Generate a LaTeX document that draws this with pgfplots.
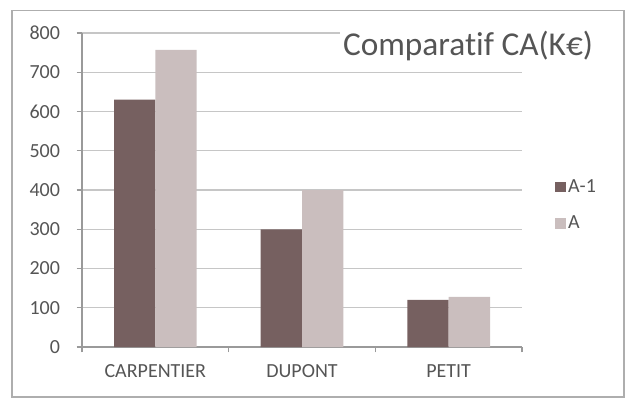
\documentclass[border=0pt]{standalone}
\usepackage{pgfplots}
\pgfplotsset{compat=1.18}
\usepackage{fontspec}
\setmainfont{Carlito}
\definecolor{dark}{HTML}{766060}
\definecolor{light}{HTML}{CABEBE}
\definecolor{txt}{HTML}{555555}
\definecolor{axisgray}{HTML}{9A9A9A}
\begin{document}
\begin{tikzpicture}
  % canvas and frame
  \path (0,0) rectangle (472.5pt,303.75pt);
  \draw[color=axisgray!80, line width=0.8pt] (9pt,6pt) rectangle (468pt,296pt);
  \begin{axis}[
      at={(61.5pt,43.5pt)}, anchor=south west,
      scale only axis,
      width=330pt, height=235.5pt,
      ybar=0pt, bar width=31pt,
      xmin=-0.5, xmax=2.5,
      ymin=0, ymax=800,
      ytick={0,100,...,800},
      xtick={-0.5,0.5,1.5,2.5},
      xticklabels={},
      extra x ticks={0,1,2},
      extra x tick labels={CARPENTIER,DUPONT,PETIT},
      extra x tick style={major tick length=0pt, grid=none,
        tick label style={yshift=-9pt, text height=10pt, text depth=0pt}},
      axis x line*=bottom, axis y line*=left,
      axis line style={axisgray, line width=0.8pt},
      tick style={axisgray, line width=0.8pt},
      tick align=outside, major tick length=4pt,
      ymajorgrids, grid style={gray!45, line width=0.8pt},
      y tick label style={xshift=-9pt},
      tick label style={font=\fontsize{15}{18}\selectfont, text=txt},
      /pgf/number format/assume math mode=true,
      legend style={draw=none, fill=none, at={(1.065,0.452)}, anchor=west,
        font=\fontsize{15}{18}\selectfont, text=txt,
        row sep=12pt, legend cell align=left},
      legend image code/.code={\fill[#1] (0pt,-4pt) rectangle (8pt,4pt);},
    ]
    \addplot[fill=dark, draw=none] coordinates {(0,630) (1,300) (2,120)};
    \addplot[fill=light, draw=none] coordinates {(0,757) (1,400) (2,128)};
    \legend{A-1,A}
  \end{axis}
  \node[fill=white, inner sep=2pt, anchor=east, text=txt]
    at (447pt,269pt) {\addfontfeatures{Ligatures=NoCommon}\fontsize{25}{30}\selectfont Comparatif CA(K€)};
\end{tikzpicture}
\end{document}
